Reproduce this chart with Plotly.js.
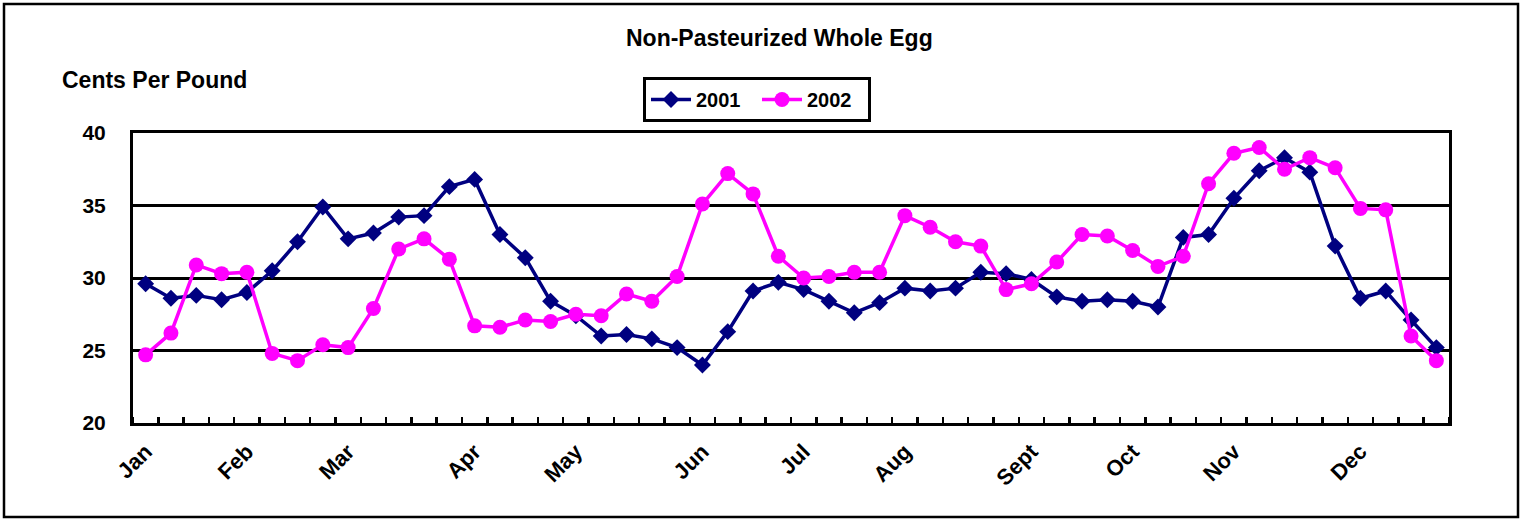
<!DOCTYPE html>
<html>
<head>
<meta charset="utf-8">
<script src="https://cdn.plot.ly/plotly-3.0.1.min.js"></script>
<style>
  html, body { margin: 0; padding: 0; background: #fff; }
  #chart { width: 1526px; height: 520px; }
</style>
</head>
<body>
<div id="chart"></div>
<script>
// Weekly index (0..51)
const weeks = Array.from({length: 52}, (_, i) => i);

const values2001 = [
  29.6, 28.6, 28.8, 28.5, 29.0, 30.5, 32.5, 34.9, 32.7, 33.1,
  34.2, 34.3, 36.3, 36.8, 33.0, 31.4, 28.4, 27.4, 26.0, 26.1,
  25.8, 25.2, 24.0, 26.3, 29.1, 29.7, 29.2, 28.4, 27.6, 28.3,
  29.3, 29.1, 29.3, 30.4, 30.3, 29.9, 28.7, 28.4, 28.5, 28.4,
  28.0, 32.8, 33.0, 35.5, 37.4, 38.3, 37.3, 32.2, 28.6, 29.1,
  27.1, 25.2
];

const values2002 = [
  24.7, 26.2, 30.9, 30.3, 30.4, 24.8, 24.3, 25.4, 25.2, 27.9,
  32.0, 32.7, 31.3, 26.7, 26.6, 27.1, 27.0, 27.5, 27.4, 28.9,
  28.4, 30.1, 35.1, 37.2, 35.8, 31.5, 30.0, 30.1, 30.4, 30.4,
  34.3, 33.5, 32.5, 32.2, 29.2, 29.6, 31.1, 33.0, 32.9, 31.9,
  30.8, 31.5, 36.5, 38.6, 39.0, 37.5, 38.3, 37.6, 34.8, 34.7,
  26.0, 24.3
];

const monthTickWeeks = [0, 4, 8, 13, 17, 22, 26, 30, 35, 39, 43, 48];
const monthLabels = ["Jan", "Feb", "Mar", "Apr", "May", "Jun", "Jul", "Aug", "Sept", "Oct", "Nov", "Dec"];

const yTicks = [20, 25, 30, 35, 40];

const FONT = "Liberation Sans, Arial, sans-serif";

const traces = [
  {
    x: weeks, y: values2001, name: "2001", type: "scatter", mode: "lines+markers",
    line: {color: "#000080", width: 3.5},
    marker: {symbol: "diamond", size: 13, color: "#000080"}
  },
  {
    x: weeks, y: values2002, name: "2002", type: "scatter", mode: "lines+markers",
    line: {color: "#FF00FF", width: 3.5},
    marker: {symbol: "circle", size: 15, color: "#FF00FF"}
  }
];

const layout = {
  width: 1526, height: 520,
  margin: {l: 133, r: 77, t: 133, b: 97},
  paper_bgcolor: "#ffffff",
  plot_bgcolor: "#ffffff",
  font: {family: FONT, color: "#000", size: 20},
  showlegend: true,
  legend: {
    orientation: "h",
    x: (643 - 133) / 1316, xanchor: "left",
    y: (423 - 77) / 290, yanchor: "top",
    bordercolor: "#000", borderwidth: 3,
    bgcolor: "#fff",
    font: {family: FONT, size: 20, weight: "bold"},
    itemwidth: 40,
    entrywidth: 56,
    entrywidthmode: "pixels",
    traceorder: "normal"
  },
  xaxis: {
    range: [-0.5, 51.5],
    tickmode: "array",
    tickvals: monthTickWeeks,
    ticktext: monthLabels,
    tickangle: -45,
    ticks: "",
    ticklabelstandoff: 4,
    tickfont: {family: FONT, size: 22, weight: "bold"},
    showgrid: false,
    zeroline: false,
    showline: true, linecolor: "#000", linewidth: 3, mirror: true,
    minor: {tickmode: "linear", tick0: -0.5, dtick: 1, ticks: "inside", ticklen: 6, tickwidth: 2.5, tickcolor: "#000", showgrid: false},
    fixedrange: true
  },
  yaxis: {
    range: [20, 40],
    tickmode: "array",
    tickvals: yTicks,
    ticks: "",
    ticklabelstandoff: 20,
    tickfont: {family: FONT, size: 21, weight: "bold"},
    showgrid: true, gridcolor: "#000", gridwidth: 3,
    zeroline: false,
    showline: true, linecolor: "#000", linewidth: 3, mirror: true,
    fixedrange: true
  },
  annotations: [
    {
      text: "Non-Pasteurized Whole Egg",
      xref: "paper", yref: "paper",
      x: (779.5 - 133) / 1316, y: (423 - 38) / 290,
      xanchor: "center", yanchor: "middle",
      showarrow: false,
      font: {family: FONT, size: 23, weight: "bold"}
    },
    {
      text: "Cents Per Pound",
      xref: "paper", yref: "paper",
      x: (60 - 133) / 1316, y: (423 - 80) / 290,
      xanchor: "left", yanchor: "middle",
      showarrow: false,
      font: {family: FONT, size: 23, weight: "bold"}
    }
  ],
  shapes: [
    {
      type: "rect", xref: "paper", yref: "paper",
      x0: (4 - 133) / 1316, x1: (1518 - 133) / 1316,
      y0: (423 - 517) / 290, y1: (423 - 4) / 290,
      line: {color: "#000", width: 2.5},
      fillcolor: "rgba(0,0,0,0)",
      layer: "below"
    }
  ]
};

Plotly.newPlot("chart", traces, layout, {displayModeBar: false, staticPlot: true});
</script>
</body>
</html>
